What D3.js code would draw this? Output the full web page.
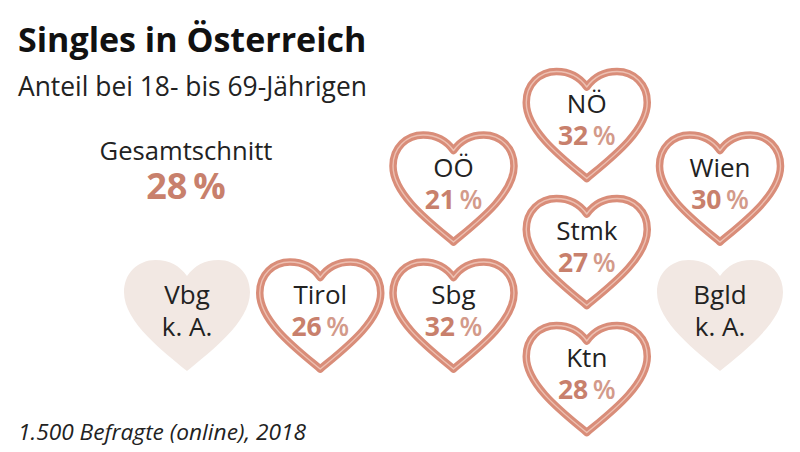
<!DOCTYPE html>
<html lang="de"><head><meta charset="utf-8">
<script src="https://cdn.jsdelivr.net/npm/d3@7"></script>
<style>html,body{margin:0;padding:0;background:#fff}svg{display:block}text{font-family:"Open Sans",sans-serif}</style>
</head><body><svg id="c" width="800" height="452"></svg>
<script>
const regions = ["Vbg","Tirol","Sbg","OÖ","NÖ","Stmk","Ktn","Wien","Bgld"];
const shares  = [null,26,32,21,32,27,28,30,null];
const columns = ["Vbg","Tirol","OÖ Sbg","NÖ Stmk Ktn","Wien Bgld"];
const rows    = ["NÖ","OÖ Wien","Stmk","Vbg Tirol Sbg Bgld","Ktn"];
const titleText = "Singles in Österreich";
const subtitleText = "Anteil bei 18- bis 69-Jährigen";
const averageLabel = "Gesamtschnitt";
const averageValue = 28;
const sourceText = "1.500 Befragte (online), 2018";
const noData = "k. A.";

const svg = d3.select("#c");
const x = d3.scalePoint().domain(columns).range([187,720]);
const y = d3.scalePoint().domain(rows).range([125,379]);
const colOf = r => columns.find(c => c.split(" ").includes(r));
const rowOf = r => rows.find(c => c.split(" ").includes(r));

function heart(w,h){
  const p = d3.path(), X = u => u*w, Y = v => (v-0.5)*h;
  p.moveTo(X(0),Y(0.145));
  p.bezierCurveTo(X(0.06),Y(0.05),X(0.14),Y(0),X(0.25),Y(0));
  p.bezierCurveTo(X(0.39),Y(0),X(0.5),Y(0.12),X(0.5),Y(0.29));
  p.bezierCurveTo(X(0.5),Y(0.56),X(0.18),Y(0.83),X(0),Y(1));
  p.bezierCurveTo(X(-0.18),Y(0.83),X(-0.5),Y(0.56),X(-0.5),Y(0.29));
  p.bezierCurveTo(X(-0.5),Y(0.12),X(-0.39),Y(0),X(-0.25),Y(0));
  p.bezierCurveTo(X(-0.14),Y(0),X(-0.06),Y(0.05),X(0),Y(0.145));
  p.closePath();
  return p.toString();
}
function addPct(sel){
  sel.append("tspan").text(d=>d.v+"\u2009");
  sel.append("tspan").attr("font-weight",600).attr("fill","#d39a8a").text("%");
}
const data = regions.map((r,i)=>({r,v:shares[i]}));
const g = svg.selectAll("g.h").data(data).join("g").attr("class","h")
  .attr("transform",d=>`translate(${x(colOf(d.r))},${y(rowOf(d.r))})`);
g.filter(d=>d.v===null).append("path").attr("d",heart(126,111)).attr("fill","#f2e8e3");
const full = g.filter(d=>d.v!==null);
full.append("path").attr("d",heart(121,107)).attr("fill","#fff").attr("stroke","#d98d79").attr("stroke-width",7.5).attr("stroke-linejoin","round");
full.append("path").attr("d",heart(121,107)).attr("fill","none").attr("stroke","#edc0b2").attr("stroke-width",1.4).attr("stroke-linejoin","round");
g.append("text").attr("text-anchor","middle").attr("y",-12).attr("font-size",26).attr("fill","#222").text(d=>d.r);
full.append("text").attr("text-anchor","middle").attr("y",20).attr("font-size",26.5).attr("font-weight",700).attr("fill","#c8806c").call(addPct);
g.filter(d=>d.v===null).append("text").attr("text-anchor","middle").attr("y",20).attr("font-size",26).attr("fill","#222").text(noData);

const t=(s,xx,yy,fs,extra={})=>{const e=svg.append("text").attr("x",xx).attr("y",yy).attr("font-size",fs).attr("fill",extra.fill||"#111").text(s);
  if(extra.w)e.attr("font-weight",extra.w); if(extra.a)e.attr("text-anchor",extra.a); if(extra.i)e.attr("font-style","italic"); return e;};
t(titleText,18,52,34,{w:700});
t(subtitleText,18,96,26.4,{fill:"#222"});
t(averageLabel,186,160,25.6,{a:"middle",fill:"#222"});
t(averageValue+"\u2009%",186,199,36,{a:"middle",w:700,fill:"#c8806c"});
t(sourceText,18,440,22.7,{i:true,fill:"#222"});
</script></body></html>
